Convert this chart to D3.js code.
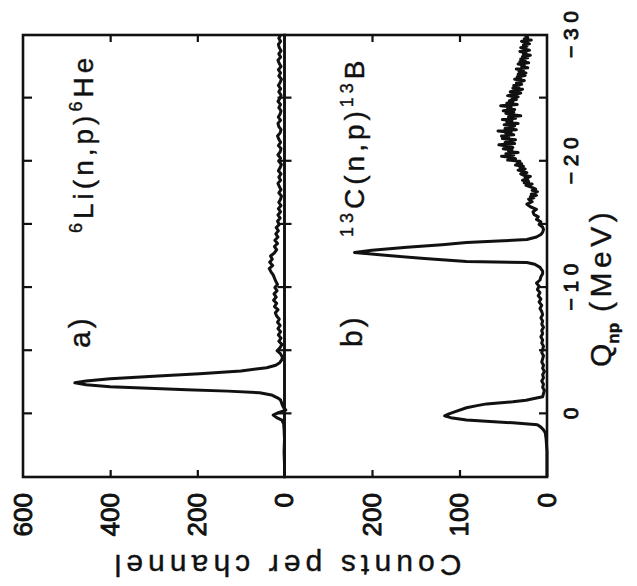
<!DOCTYPE html>
<html lang="en">
<head>
<meta charset="UTF-8">
<title>(n,p) spectra</title>
<script src="https://d3js.org/d3.v7.min.js"></script>
<style>
  body { margin: 0; background: #fff; }
  svg { display: block; }
  .chart text { font-family: "Liberation Sans", Arial, sans-serif; fill: #111; stroke: #111; stroke-width: 0.4; }
  .tick text { stroke-width: 0.9; }
  .frame { fill: none; stroke: #111; stroke-width: 2.6; }
  .tick line { stroke: #111; stroke-width: 2.2; }
  .domain { display: none; }
  .spectrum { fill: none; stroke: #111; stroke-width: 3; stroke-linejoin: round; }
</style>
</head>
<body>
<svg id="chart" class="chart" width="637" height="586"></svg>
<script>
// Q-value ticks (MeV) and count ticks for both panels
const qTicks = [-25, -20, -15, -10, -5, 0];
const qLabels = [0, -10, -20, -30];
const countTicksA = [200, 400];
const countLabelsA = [0, 200, 400, 600];
const countTicksB = [100, 200];
const countLabelsB = [0, 100, 200];

// [Q (MeV), counts per channel]
const spectrumLi = [
  [5, 0], [4, 0], [3, 1], [2, 0], [1.2, 1], [0.8, 2], [0.5, 6], [0.3, 18], [0.1, 26],
  [-0.1, 14], [-0.3, -3], [-0.5, 2], [-0.7, 5], [-0.9, 7], [-1.1, 9], [-1.27, 16],
  [-1.5, 30], [-1.67, 57], [-1.8, 130], [-1.9, 224], [-2.14, 400], [-2.3, 455],
  [-2.46, 481], [-2.6, 455], [-2.78, 400], [-3.0, 290], [-3.17, 195], [-3.4, 100],
  [-3.65, 41], [-3.85, 20], [-4.05, 11], [-4.3, 6], [-4.5, 5],
  [-4.75, 9], [-5.0, 17], [-5.25, 10], [-5.5, 6], [-5.75, 13], [-6.0, 8], [-6.25, 14],
  [-6.5, 9], [-6.75, 15], [-7.0, 10], [-7.25, 16], [-7.5, 12], [-7.75, 18], [-8.0, 21],
  [-8.25, 15], [-8.5, 23], [-8.75, 18], [-9.0, 25], [-9.25, 19], [-9.5, 24], [-9.75, 17],
  [-10.0, 22], [-10.25, 16], [-10.5, 20], [-10.75, 23], [-11.0, 26], [-11.25, 31],
  [-11.5, 35], [-11.75, 27], [-12.0, 34], [-12.25, 28], [-12.5, 32], [-12.75, 23],
  [-13.0, 18], [-13.25, 23], [-13.5, 16], [-13.75, 22], [-14.0, 15], [-14.25, 20],
  [-14.5, 14], [-14.75, 19], [-15.0, 12], [-15.25, 16], [-15.5, 10], [-15.75, 15],
  [-16.0, 9], [-16.25, 14], [-16.5, 8], [-16.75, 13], [-17.0, 9], [-17.25, 7],
  [-17.5, 13], [-17.75, 8], [-18.0, 12], [-18.25, 15], [-18.5, 9], [-18.75, 13],
  [-19.0, 8], [-19.25, 14], [-19.5, 10], [-19.75, 7], [-20.0, 13], [-20.25, 9],
  [-20.5, 15], [-20.75, 10], [-21.0, 8], [-21.25, 14], [-21.5, 9], [-21.75, 13],
  [-22.0, 16], [-22.25, 10], [-22.5, 8], [-22.75, 13], [-23.0, 15], [-23.25, 9],
  [-23.5, 14], [-23.75, 10], [-24.0, 8], [-24.25, 13], [-24.5, 9], [-24.75, 15],
  [-25.0, 10], [-25.25, 8], [-25.5, 13], [-25.75, 9], [-26.0, 14], [-26.25, 10],
  [-26.5, 7], [-26.75, 13], [-27.0, 9], [-27.25, 14], [-27.5, 8], [-27.75, 12],
  [-28.0, 15], [-28.25, 9], [-28.5, 13], [-28.75, 8], [-29.0, 12], [-29.25, 14],
  [-29.5, 9], [-29.75, 13], [-30.0, 9]
];

const spectrumC = [
  [5, 0], [4, 0], [3, 0], [2, 1], [1.5, 2], [1.27, 4], [1.05, 7], [0.87, 11], [0.71, 39],
  [0.48, 92], [0.3, 110], [0.16, 117], [0.0, 112], [-0.2, 104], [-0.48, 92], [-0.65, 80],
  [-0.79, 69], [-0.95, 39], [-1.08, 24], [-1.19, 16], [-1.35, 5], [-1.6, 4],
  [-1.85, 3], [-2.1, 5], [-2.35, 4], [-2.6, 6], [-2.85, 4], [-3.1, 5], [-3.35, 3],
  [-3.6, 5], [-3.85, 4], [-4.1, 6], [-4.35, 5], [-4.6, 4], [-4.85, 6], [-5.1, 5],
  [-5.35, 4], [-5.6, 6], [-5.85, 5], [-6.1, 7], [-6.35, 5], [-6.6, 6], [-6.85, 4],
  [-7.1, 6], [-7.35, 5], [-7.6, 7], [-7.85, 5], [-8.1, 6], [-8.35, 8], [-8.6, 6],
  [-8.85, 9], [-9.1, 7], [-9.35, 10], [-9.6, 8], [-9.85, 11], [-10.1, 9], [-10.35, 12],
  [-10.6, 8], [-10.85, 7], [-11.1, 5], [-11.3, 5], [-11.6, 8], [-11.85, 14], [-11.98, 23],
  [-12.06, 92], [-12.3, 140], [-12.55, 185], [-12.78, 220], [-12.95, 200], [-13.2, 160],
  [-13.4, 120], [-13.57, 92], [-13.7, 50], [-13.81, 23], [-14.0, 12], [-14.2, 7],
  [-14.37, 5], [-14.6, 4],
  [-14.8, 5], [-15.0, 9], [-15.2, 7], [-15.4, 12], [-15.6, 10], [-15.8, 15], [-16.0, 16],
  [-16.2, 12], [-16.4, 19], [-16.6, 23], [-16.8, 17],
  [-17.0, 21], [-17.1, 15], [-17.2, 19], [-17.3, 12], [-17.4, 18], [-17.5, 14], [-17.6, 11],
  [-17.7, 17], [-17.8, 13], [-17.9, 16],
  [-18.0, 20], [-18.1, 24], [-18.2, 17], [-18.3, 26], [-18.4, 21], [-18.5, 28], [-18.6, 22],
  [-18.7, 25], [-18.8, 19], [-18.9, 27],
  [-19.0, 30], [-19.1, 23], [-19.2, 28], [-19.3, 33], [-19.4, 25], [-19.5, 31], [-19.6, 27],
  [-19.7, 36], [-19.8, 29], [-19.9, 34],
  [-20.0, 31], [-20.1, 45], [-20.2, 36], [-20.3, 41], [-20.4, 52], [-20.5, 38], [-20.6, 47],
  [-20.7, 33], [-20.8, 44], [-20.9, 40],
  [-21.0, 50], [-21.1, 39], [-21.2, 46], [-21.3, 55], [-21.4, 37], [-21.5, 48], [-21.6, 42],
  [-21.7, 36], [-21.8, 51], [-21.9, 44],
  [-22.0, 52], [-22.1, 38], [-22.2, 47], [-22.3, 41], [-22.4, 56], [-22.5, 35], [-22.6, 48],
  [-22.7, 43], [-22.8, 37], [-22.9, 49],
  [-23.0, 33], [-23.1, 46], [-23.2, 40], [-23.3, 51], [-23.4, 36], [-23.5, 44], [-23.6, 30],
  [-23.7, 42], [-23.8, 47], [-23.9, 38],
  [-24.0, 50], [-24.1, 37], [-24.2, 45], [-24.3, 41], [-24.4, 53], [-24.5, 34], [-24.6, 46],
  [-24.7, 39], [-24.8, 43], [-24.9, 35],
  [-25.0, 40], [-25.1, 33], [-25.2, 45], [-25.3, 36], [-25.4, 30], [-25.5, 42], [-25.6, 35],
  [-25.7, 28], [-25.8, 39], [-25.9, 32],
  [-26.0, 38], [-26.1, 29], [-26.2, 35], [-26.3, 31], [-26.4, 26], [-26.5, 37], [-26.6, 30],
  [-26.7, 34], [-26.8, 25], [-26.9, 33],
  [-27.0, 24], [-27.1, 32], [-27.2, 27], [-27.3, 35], [-27.4, 22], [-27.5, 29], [-27.6, 26],
  [-27.7, 33], [-27.8, 21], [-27.9, 31],
  [-28.0, 25], [-28.1, 30], [-28.2, 22], [-28.3, 28], [-28.4, 19], [-28.5, 27], [-28.6, 24],
  [-28.7, 31], [-28.8, 20], [-28.9, 26],
  [-29.0, 30], [-29.1, 23], [-29.2, 27], [-29.3, 20], [-29.4, 25], [-29.5, 29], [-29.6, 18],
  [-29.7, 26], [-29.8, 22], [-29.9, 24], [-30.0, 25]
];

const svg = d3.select("#chart");
// the figure is laid out upright, then the whole thing is turned a quarter turn counter-clockwise
const fig = svg.append("g").attr("transform", "translate(0,586) rotate(-90)");

const x = d3.scaleLinear().domain([5, -30]).range([109, 551]);
const yA = d3.scaleLinear().domain([0, 600]).range([284.5, 23]);
const yB = d3.scaleLinear().domain([0, 300]).range([547, 284.5]);

// frames
[[yA, 600], [yB, 300]].forEach(([y, top]) => {
  fig.append("rect")
    .attr("class", "frame")
    .attr("x", x(5))
    .attr("y", y(top))
    .attr("width", x(-30) - x(5))
    .attr("height", y(0) - y(top));
});

// Q ticks: inward on top of a, across the divider, inward on bottom of b
fig.append("g").attr("transform", `translate(0,${yA(600)})`)
  .call(d3.axisTop(x).tickValues(qTicks).tickSize(-9).tickFormat(""));
fig.append("g").attr("transform", `translate(0,${yA(0)})`)
  .call(d3.axisTop(x).tickValues(qTicks).tickSize(7).tickFormat(""));
fig.append("g").attr("transform", `translate(0,${yA(0)})`)
  .call(d3.axisBottom(x).tickValues(qTicks).tickSize(7).tickFormat(""));
fig.append("g").attr("transform", `translate(0,${yB(0)})`)
  .call(d3.axisBottom(x).tickValues(qTicks).tickSize(-8).tickFormat(""));

const qAxis = fig.append("g").attr("transform", `translate(0,${yB(0)})`)
  .call(d3.axisBottom(x).tickValues(qLabels).tickSize(0).tickPadding(16));
qAxis.selectAll("text")
  .attr("font-size", 21)
  .filter(d => d < 0)
  .attr("textLength", 47)
  .attr("lengthAdjust", "spacing");

// count ticks, inward on both sides
[[yA, countTicksA, countLabelsA], [yB, countTicksB, countLabelsB]].forEach(([y, ticks, labels]) => {
  fig.append("g").attr("transform", `translate(${x(5)},0)`)
    .call(d3.axisLeft(y).tickValues(ticks).tickSize(-7).tickFormat(""));
  fig.append("g").attr("transform", `translate(${x(-30)},0)`)
    .call(d3.axisRight(y).tickValues(ticks).tickSize(-7).tickFormat(""));
  fig.append("g").attr("transform", `translate(${x(5)},0)`)
    .call(d3.axisLeft(y).tickValues(labels).tickSize(0).tickPadding(16))
    .selectAll("text").attr("font-size", 26);
});

// spectra
fig.append("path")
  .datum(spectrumLi)
  .attr("class", "spectrum")
  .attr("d", d3.line().x(d => x(d[0])).y(d => yA(d[1])));
fig.append("path")
  .datum(spectrumC)
  .attr("class", "spectrum")
  .attr("d", d3.line().x(d => x(d[0])).y(d => yB(d[1])));

// axis titles
fig.append("text")
  .attr("transform", `translate(31,${(yA(600) + yB(0)) / 2 + 3}) rotate(-90)`)
  .attr("text-anchor", "middle")
  .attr("font-size", 30)
  .attr("textLength", 347)
  .attr("lengthAdjust", "spacing")
  .text("Counts per channel");

const qTitle = fig.append("text").attr("x", 219).attr("y", 611).attr("font-size", 30);
qTitle.append("tspan").text("Q");
qTitle.append("tspan").attr("dy", 8).attr("font-size", 17).attr("font-weight", "bold").text("np");
qTitle.append("tspan").attr("x", 274).attr("dy", -8).attr("letter-spacing", 4.5).text("(MeV)");

// panel labels
function reaction(u, v, target, a1, product, a2) {
  const t = fig.append("text").attr("x", u).attr("y", v).attr("font-size", 28).attr("letter-spacing", 4);
  t.append("tspan").attr("dy", -11).attr("font-size", 18).text(a1);
  t.append("tspan").attr("dy", 11).text(target);
  t.append("tspan").attr("dy", -11).attr("font-size", 18).text(a2);
  t.append("tspan").attr("dy", 11).text(product);
}
fig.append("text").attr("x", 238).attr("y", 90).attr("font-size", 30).attr("letter-spacing", 3).text("a)");
fig.append("text").attr("x", 239).attr("y", 362).attr("font-size", 30).attr("letter-spacing", 3).text("b)");
reaction(353, 93, "Li(n,p)", "6", "He", "6");
reaction(349, 364, "C(n,p)", "13", "B", "13");
</script>
</body>
</html>
